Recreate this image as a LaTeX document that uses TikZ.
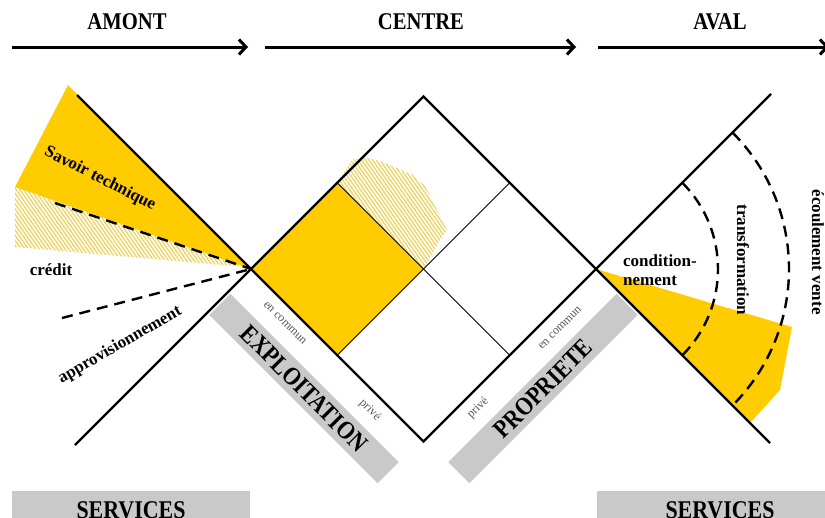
\documentclass[tikz,border=0pt]{standalone}
\usepackage{fontspec}
\setmainfont{Liberation Serif}
\newfontfamily\condfont{Liberation Serif}[FakeStretch=0.86]
\usetikzlibrary{arrows.meta,patterns.meta}
\definecolor{gold}{RGB}{255,204,0}
\definecolor{band}{RGB}{201,201,201}
\definecolor{hatchy}{RGB}{238,212,100}
\definecolor{smallgray}{RGB}{85,85,85}
\begin{document}
\begin{tikzpicture}[x=1pt,y=-1pt,
  thick line/.style={line width=2.2pt},
  thin line/.style={line width=1pt},
  dashline/.style={line width=2.4pt, dash pattern=on 11pt off 7pt},
  header/.style={font=\condfont\fontsize{24}{26}\selectfont\bfseries, inner sep=0pt},
  lab/.style={font=\fontsize{17}{18.5}\selectfont\bfseries, inner sep=0pt},
  small/.style={font=\fontsize{12}{13}\selectfont, text=smallgray, inner sep=0pt},
  bandbox/.style={fill=band, minimum width=238pt, minimum height=30pt, inner sep=0pt, font=\condfont\fontsize{25.5}{27}\selectfont\bfseries},
  hatch/.style={pattern={Lines[angle=-55,distance=3pt,line width=1.35pt]}, pattern color=hatchy},
  toparrow/.style={line width=3pt, -{Straight Barb[length=7pt,width=15pt,line width=3pt]}}
]
\useasboundingbox (0,0) rectangle (825,517);
\clip (0,0) rectangle (825,517);

% key points
\coordinate (L) at (251,269);
\coordinate (T) at (423.5,96.5);
\coordinate (R) at (596,269);
\coordinate (B) at (423.5,441.5);
\coordinate (C) at (423.5,269);
\coordinate (Mul) at (337.25,182.75);
\coordinate (Mur) at (509.75,182.75);
\coordinate (Mll) at (337.25,355.25);
\coordinate (Mlr) at (509.75,355.25);
\coordinate (A1) at (77,95);
\coordinate (A2) at (75,445);
\coordinate (D1) at (770,443);
\coordinate (D2) at (771,94);
\coordinate (c1) at (55,203);
\coordinate (c2) at (62,318);

% fills
\fill[gold] (68,85) -- (15,187) -- (L) -- cycle;
\fill[hatch] (15,187) -- (15,247) -- (245,267) -- (L) -- cycle;
\fill[hatch] (Mul) -- (352,160) -- (365,157) -- (380,161) -- (397,168) -- (413,175) -- (425,186) -- (438,212) -- (447,230) -- (440,240) -- (C) -- cycle;
\fill[gold] (L) -- (Mul) -- (C) -- (Mll) -- cycle;
\fill[gold] (R) -- (792,327) -- (780,390) -- (750,423) -- cycle;

% bands
\node[bandbox, rotate=-45] (expl) at (304,388.5) {EXPLOITATION};
\node[bandbox, rotate=45] (prop) at (543,388.5) {PROPRIETE};

% lines
\draw[thin line] (Mul) -- (Mlr);
\draw[thin line] (Mur) -- (Mll);
\draw[thick line] (L) -- (T) -- (R) -- (B) -- cycle;
\draw[thick line] (A1) -- (L);
\draw[thick line] (A2) -- (L);
\draw[thick line] (R) -- (D1);
\draw[thick line] (R) -- (D2);

% dashed
\draw[dashline] (c1) -- (L);
\draw[dashline] (c2) -- (L);
\draw[dashline] ([shift={(-45:122)}]R) arc[start angle=-45,end angle=45,radius=122];
\draw[dashline] ([shift={(-45:193)}]R) arc[start angle=-45,end angle=45,radius=193];

% labels
\node[lab, rotate=-27] (savoir) at (100,179) {Savoir technique};
\node[lab] (credit) at (51,270) {crédit};
\node[lab, rotate=30] (appro) at (120,345) {approvisionnement};
\node[lab, align=left] (cond) at (660,270) {condition-\\nement};
\node[lab, rotate=-90] (transf) at (743,260) {transformation};
\node[lab, rotate=-90] (ecoul) at (818,252) {écoulement vente};

\node[small, rotate=-45] (ec1) at (285,323) {en commun};
\node[small, rotate=-45] (pr1) at (370,410) {privé};
\node[small, rotate=45] (ec2) at (560,328) {en commun};
\node[small, rotate=45] (pr2) at (478,408) {privé};

% top
\node[header] (amont) at (127,22) {AMONT};
\node[header] (centre) at (421,22) {CENTRE};
\node[header] (aval) at (720,22) {AVAL};
\coordinate (a1s) at (12,47);
\coordinate (a1e) at (248,47);
\coordinate (a2s) at (265,47);
\coordinate (a2e) at (576,47);
\coordinate (a3s) at (598,47);
\coordinate (a3e) at (829,47);
\draw[toparrow] (a1s) -- (a1e);
\draw[toparrow] (a2s) -- (a2e);
\draw[toparrow] (a3s) -- (a3e);

% bottom
\fill[band] (12,491) rectangle (250,530);
\fill[band] (597,491) rectangle (842,530);
\node[header, font=\condfont\fontsize{25.5}{27}\selectfont\bfseries, anchor=base] (serv1) at (131,518) {SERVICES};
\node[header, font=\condfont\fontsize{25.5}{27}\selectfont\bfseries, anchor=base] (serv2) at (720,518) {SERVICES};
\end{tikzpicture}
\end{document}
